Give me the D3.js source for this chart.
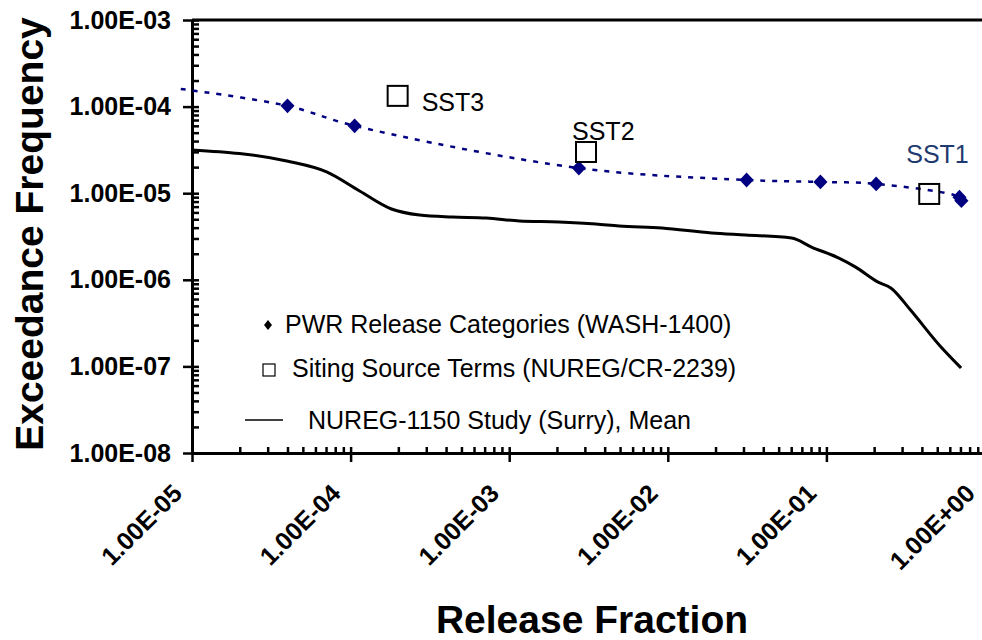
<!DOCTYPE html>
<html>
<head>
<meta charset="utf-8">
<script src="https://cdn.jsdelivr.net/npm/d3@7"></script>
<style>
  body { margin: 0; background: #fff; }
  svg { display: block; font-family: "Liberation Sans", Arial, sans-serif; }
  .axis path { stroke: #000; stroke-width: 3; }
  .axis line { stroke: #000; stroke-width: 2.5; }
  .axis text { font-family: "Liberation Sans", Arial, sans-serif; font-weight: bold; font-size: 25px; fill: #000; }
</style>
</head>
<body>
<script>
'use strict';

// PWR release categories (WASH-1400), first point lies left of the axis
var pwrX = [8.5e-6, 4.0e-5, 1.06e-4, 2.75e-3, 3.14e-2, 9.17e-2, 0.206, 0.69, 0.71];
var pwrY = [1.6e-4, 1.02e-4, 6.0e-5, 1.95e-5, 1.42e-5, 1.35e-5, 1.28e-5, 9.0e-6, 8.2e-6];

// Siting source terms (NUREG/CR-2239)
var sstNames = ["SST3", "SST2", "SST1"];
var sstX = [1.98e-4, 3.05e-3, 0.445];
var sstY = [1.33e-4, 2.99e-5, 9.8e-6];

// NUREG-1150 Surry mean curve
var surryX = [1.0e-5, 3.96e-5, 7.06e-5, 1.14e-4, 1.81e-4, 2.72e-4, 4.38e-4, 7.17e-4,
              1.16e-3, 2.06e-3, 3.52e-3, 4.92e-3, 9.17e-3, 1.89e-2, 3.10e-2, 6.03e-2,
              8.05e-2, 0.119, 0.152, 0.212, 0.256, 0.338, 0.521, 0.706];
var surryY = [3.15e-5, 2.35e-5, 1.76e-5, 1.06e-5, 6.57e-6, 5.6e-6, 5.31e-6, 5.17e-6,
              4.77e-6, 4.65e-6, 4.41e-6, 4.18e-6, 3.96e-6, 3.47e-6, 3.29e-6, 3.04e-6,
              2.39e-6, 1.79e-6, 1.41e-6, 9.4e-7, 8.0e-7, 4.5e-7, 1.72e-7, 9.6e-8];

var xTicks = [1e-5, 1e-4, 1e-3, 1e-2, 1e-1, 1];
var yTicks = [1e-8, 1e-7, 1e-6, 1e-5, 1e-4, 1e-3];

var legendItems = ["PWR Release Categories (WASH-1400)",
                   "Siting Source Terms (NUREG/CR-2239)",
                   "NUREG-1150 Study (Surry), Mean"];

var _width = 982, _height = 640;
var _navy = "#000080";

var _xScale = d3.scaleLog().domain([1e-5, 1]).range([192, 985]);
var _yScale = d3.scaleLog().domain([1e-8, 1e-3]).range([453, 20]);

function sci(d) {
  var e = Math.round(Math.log10(d));
  return "1.00E" + (e < 0 ? "-" : "+") + String(Math.abs(e)).padStart(2, "0");
}

function minors(lo, hi) {
  var out = [];
  for (var e = lo; e < hi; e++) {
    for (var k = 2; k <= 9; k++) out.push(k * Math.pow(10, e));
  }
  return out;
}

var svg = d3.select("body").append("svg")
    .attr("width", _width)
    .attr("height", _height);

// top border of the plot area
svg.append("line")
    .attr("x1", _xScale.range()[0]).attr("x2", _width)
    .attr("y1", _yScale.range()[1]).attr("y2", _yScale.range()[1])
    .attr("stroke", "#000").attr("stroke-width", 3);

// minor ticks (inward)
svg.append("g")
    .attr("class", "axis")
    .attr("transform", "translate(" + _xScale.range()[0] + ",0)")
    .call(d3.axisRight(_yScale).tickValues(minors(-8, -3)).tickSize(7).tickFormat(""))
    .call(function(g) { g.select(".domain").remove(); });

svg.append("g")
    .attr("class", "axis")
    .attr("transform", "translate(0," + _yScale.range()[0] + ")")
    .call(d3.axisTop(_xScale).tickValues(minors(-5, 0)).tickSize(6).tickFormat(""))
    .call(function(g) { g.select(".domain").remove(); });

// Y axis
svg.append("g")
    .attr("class", "axis y")
    .attr("transform", "translate(" + _xScale.range()[0] + ",0)")
    .call(d3.axisLeft(_yScale).tickValues(yTicks).tickSize(9).tickSizeOuter(0)
          .tickPadding(12).tickFormat(sci))
    .call(function(g) { g.selectAll(".tick line").attr("x1", 7); });

// X axis
var xAxisG = svg.append("g")
    .attr("class", "axis x")
    .attr("transform", "translate(0," + _yScale.range()[0] + ")")
    .call(d3.axisBottom(_xScale).tickValues(xTicks).tickSize(9).tickSizeOuter(0)
          .tickFormat(sci));
xAxisG.selectAll(".tick line").attr("y1", -6);
xAxisG.selectAll(".tick text")
    .attr("text-anchor", "end")
    .attr("dy", null)
    .attr("y", null)
    .attr("transform", "translate(-9,42) rotate(-45)");

// axis titles
svg.append("text")
    .attr("transform", "translate(43,234) rotate(-90)")
    .attr("text-anchor", "middle")
    .style("font-weight", "bold")
    .style("font-size", "39px")
    .text("Exceedance Frequency");

svg.append("text")
    .attr("x", 592).attr("y", 633)
    .attr("text-anchor", "middle")
    .style("font-weight", "bold")
    .style("font-size", "39px")
    .text("Release Fraction");

// NUREG-1150 curve
var surry = surryX.map(function(x, i) { return [x, surryY[i]]; });
var line = d3.line()
    .x(function(d) { return _xScale(d[0]); })
    .y(function(d) { return _yScale(d[1]); });

svg.append("path")
    .datum(surry)
    .attr("fill", "none")
    .attr("stroke", "#000")
    .attr("stroke-width", 3)
    .attr("stroke-linejoin", "round")
    .attr("d", line.curve(d3.curveMonotoneX));

// PWR dotted curve and diamonds
var pwr = pwrX.map(function(x, i) { return [x, pwrY[i]]; });
svg.append("path")
    .datum(pwr)
    .attr("fill", "none")
    .attr("stroke", _navy)
    .attr("stroke-width", 2.5)
    .attr("stroke-dasharray", "5,7")
    .attr("d", d3.line()
        .x(function(d) { return _xScale(d[0]); })
        .y(function(d) { return _yScale(d[1]); })
        .curve(d3.curveCatmullRom)(pwr));

var diamond = d3.symbol().type(d3.symbolSquare).size(100);
svg.append("g").selectAll("path")
    .data(pwr.filter(function(d) { return d[0] >= 1e-5; }))
    .enter().append("path")
    .attr("transform", function(d) {
      return "translate(" + _xScale(d[0]) + "," + _yScale(d[1]) + ") scale(1,1.05) rotate(45)";
    })
    .attr("d", diamond)
    .attr("fill", _navy);

// siting source terms
var sstLabelOffset = [[24, 15], [-14, -12], [-23, -31]];
var sstColor = ["#000", "#000", "#1f3a6e"];
var sst = sstX.map(function(x, i) { return {x: x, y: sstY[i], name: sstNames[i], i: i}; });
var sstG = svg.append("g").selectAll("g").data(sst).enter().append("g")
    .attr("transform", function(d) {
      return "translate(" + _xScale(d.x) + "," + _yScale(d.y) + ")";
    });
sstG.append("rect")
    .attr("x", -10).attr("y", -10).attr("width", 20).attr("height", 20)
    .attr("fill", "none").attr("stroke", "#000").attr("stroke-width", 2);
sstG.append("text")
    .attr("x", function(d) { return sstLabelOffset[d.i][0]; })
    .attr("y", function(d) { return sstLabelOffset[d.i][1]; })
    .style("font-size", "25px")
    .attr("fill", function(d) { return sstColor[d.i]; })
    .text(function(d) { return d.name; });

// legend
var legend = svg.append("g").style("font-size", "25px");
legend.append("path")
    .attr("transform", "translate(268,325) scale(0.8,1) rotate(45)")
    .attr("d", d3.symbol().type(d3.symbolSquare).size(50))
    .attr("fill", "#000");
legend.append("text").attr("x", 285).attr("y", 333).text(legendItems[0]);

legend.append("rect")
    .attr("x", 263).attr("y", 364).attr("width", 12).attr("height", 12)
    .attr("fill", "none").attr("stroke", "#000").attr("stroke-width", 1.2);
legend.append("text").attr("x", 292).attr("y", 377).text(legendItems[1]);

legend.append("line")
    .attr("x1", 245).attr("x2", 283).attr("y1", 420).attr("y2", 420)
    .attr("stroke", "#000").attr("stroke-width", 1.5);
legend.append("text").attr("x", 308).attr("y", 429).text(legendItems[2]);
</script>
</body>
</html>
